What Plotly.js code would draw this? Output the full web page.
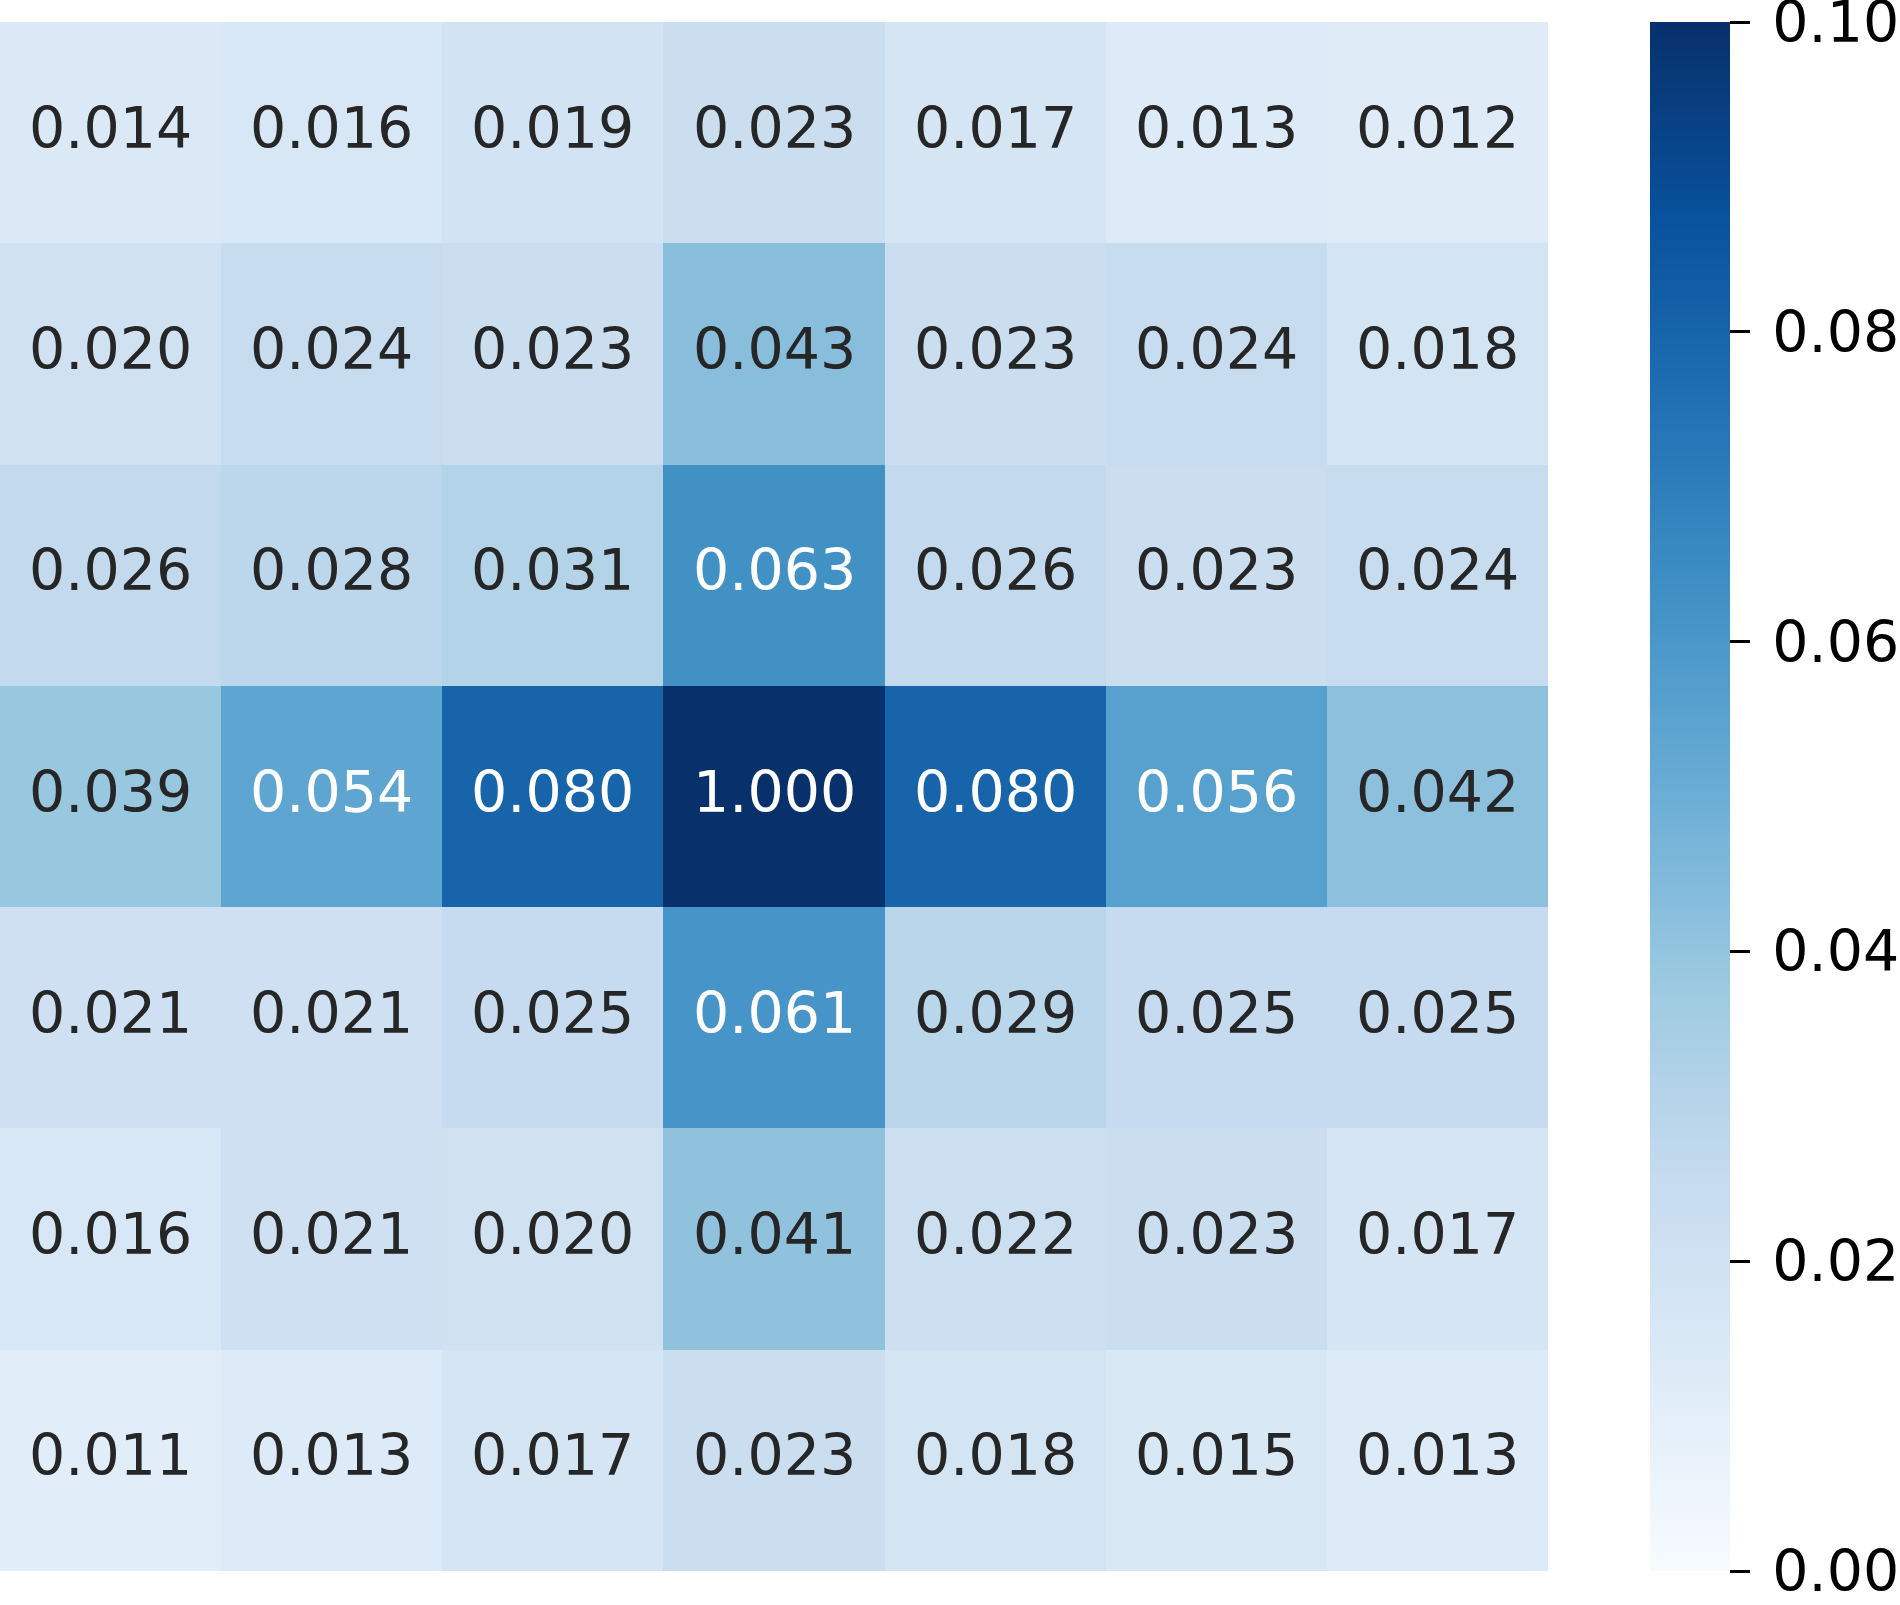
<!DOCTYPE html>
<html>
<head>
<meta charset="utf-8">
<script src="https://cdn.plot.ly/plotly-3.0.1.min.js"></script>
<style>html,body{margin:0;padding:0;background:#fff;}</style>
</head>
<body>
<div id="chart" style="width:1900px;height:1605px;"></div>
<script>
const rowLabels = ['r0','r1','r2','r3','r4','r5','r6'];
const colLabels = ['c0','c1','c2','c3','c4','c5','c6'];
const row0 = [0.014, 0.016, 0.019, 0.023, 0.017, 0.013, 0.012];
const row1 = [0.020, 0.024, 0.023, 0.043, 0.023, 0.024, 0.018];
const row2 = [0.026, 0.028, 0.031, 0.063, 0.026, 0.023, 0.024];
const row3 = [0.039, 0.054, 0.080, 1.000, 0.080, 0.056, 0.042];
const row4 = [0.021, 0.021, 0.025, 0.061, 0.029, 0.025, 0.025];
const row5 = [0.016, 0.021, 0.020, 0.041, 0.022, 0.023, 0.017];
const row6 = [0.011, 0.013, 0.017, 0.023, 0.018, 0.015, 0.013];
const zRows = [row0, row1, row2, row3, row4, row5, row6];
const colorTicks = [0.00, 0.02, 0.04, 0.06, 0.08, 0.10];

const vmin = 0.0, vmax = 0.1;
const bluesHex = ['#f7fbff','#deebf7','#c6dbef','#9ecae1','#6baed6','#4292c6','#2171b5','#08519c','#08306b'];
const colorscale = bluesHex.map((c, i) => [i / (bluesHex.length - 1), c]);

function hexToRgb(h){ return [parseInt(h.substr(1,2),16), parseInt(h.substr(3,2),16), parseInt(h.substr(5,2),16)]; }
function colorAt(v){
  let t = (v - vmin) / (vmax - vmin); t = Math.max(0, Math.min(1, t));
  const pos = t * (bluesHex.length - 1);
  const i = Math.min(Math.floor(pos), bluesHex.length - 2);
  const f = pos - i;
  const a = hexToRgb(bluesHex[i]), b = hexToRgb(bluesHex[i+1]);
  return a.map((x, k) => x + (b[k] - x) * f);
}
function luminance(rgb){
  const c = rgb.map(x => { x = x / 255; return x <= 0.03928 ? x / 12.92 : Math.pow((x + 0.055) / 1.055, 2.4); });
  return 0.2126 * c[0] + 0.7152 * c[1] + 0.0722 * c[2];
}

const annotations = [];
zRows.forEach((row, r) => {
  row.forEach((v, c) => {
    const lum = luminance(colorAt(v));
    annotations.push({
      x: colLabels[c], y: rowLabels[r], xref: 'x', yref: 'y',
      text: v.toFixed(3), showarrow: false, yshift: 5,
      font: {family: 'DejaVu Sans', size: 57, color: lum > 0.408 ? '#262626' : '#ffffff'}
    });
  });
});

const trace = {
  type: 'heatmap',
  z: zRows, x: colLabels, y: rowLabels,
  zmin: vmin, zmax: vmax,
  colorscale: colorscale,
  xgap: 0, ygap: 0,
  hoverinfo: 'skip',
  colorbar: {
    x: 1650 / 1548, xanchor: 'left', xpad: 0, ypad: 0,
    y: 0.5, yanchor: 'middle', len: 1, lenmode: 'fraction',
    thickness: 80, thicknessmode: 'pixels',
    outlinewidth: 0,
    tickmode: 'array', tickvals: colorTicks,
    ticktext: colorTicks.map(v => '\u2009' + v.toFixed(2)),
    ticks: 'outside', ticklen: 20, tickwidth: 3, tickcolor: '#000',
    ticklabeloverflow: 'allow',
    tickfont: {family: 'DejaVu Sans', size: 57, color: '#000'}
  }
};

const layout = {
  width: 1900, height: 1605,
  margin: {l: 0, r: 352, t: 22, b: 34, pad: 0},
  paper_bgcolor: '#fff', plot_bgcolor: '#fff',
  xaxis: {showticklabels: false, showgrid: false, zeroline: false, ticks: '', showline: false, fixedrange: true},
  yaxis: {showticklabels: false, showgrid: false, zeroline: false, ticks: '', showline: false, autorange: 'reversed', fixedrange: true},
  annotations: annotations,
  showlegend: false
};

Plotly.newPlot('chart', [trace], layout, {displayModeBar: false, staticPlot: true});
</script>
</body>
</html>
